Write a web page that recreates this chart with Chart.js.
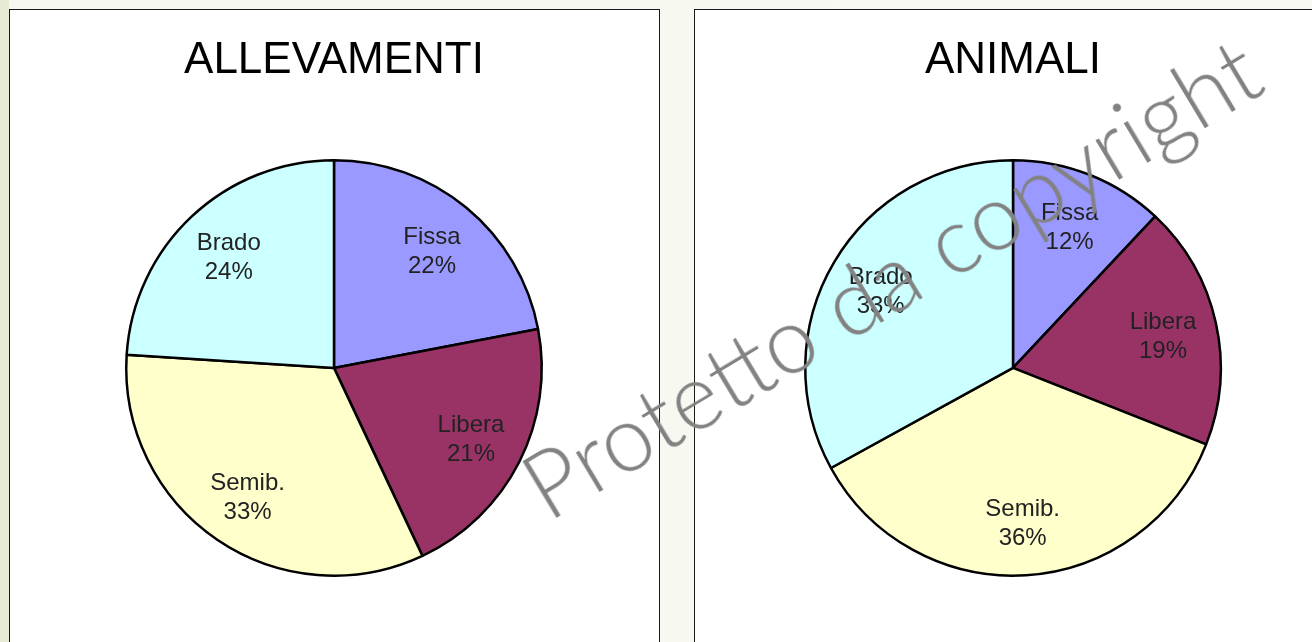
<!DOCTYPE html>
<html lang="it">
<head>
  <meta charset="UTF-8">
  <title>Allevamenti e animali per tipo di stabulazione</title>
  <script src="https://cdn.jsdelivr.net/npm/chart.js"></script>
  <style>
    html, body { margin: 0; padding: 0; }
    body {
      width: 1312px; height: 642px; overflow: hidden; position: relative;
      background: linear-gradient(90deg, #e7ebd5 0px, #e7ebd5 9px, #f6f7ee 9px, #f9f9f4 100%);
    }
    .box {
      position: absolute; top: 9px; background: #fff;
      border: 1.5px solid #1a1a1a; box-sizing: border-box;
    }
    #box1 { left: 9px; width: 651px; height: 660px; }
    #box2 { left: 694px; width: 640px; height: 660px; }
    canvas { display: block; }
    #wm {
      position: absolute; left: 890px; top: 276px;
      transform: translate(-50%, -50%) rotate(-31deg);
      font-family: Lato, "Open Sans", sans-serif; font-weight: 300;
      font-size: 92px; color: #828282; white-space: nowrap;
      pointer-events: none;
    }
  </style>
</head>
<body>
  <div class="box" id="box1"><canvas id="chartAllevamenti" width="648" height="640"></canvas></div>
  <div class="box" id="box2"><canvas id="chartAnimali" width="617" height="640"></canvas></div>
  <div id="wm">Protetto da copyright</div>

  <script>
    // dati
    const categorie = ['Fissa', 'Libera', 'Semib.', 'Brado'];
    const allevamenti = [22, 21, 33, 24];
    const animali = [12, 19, 36, 33];
    const colori = ['#9999ff', '#993366', '#ffffcc', '#ccffff'];

    // etichetta "nome / xx%" dentro ogni fetta
    const etichette = {
      id: 'etichette',
      afterDatasetsDraw(chart) {
        const ctx = chart.ctx;
        const meta = chart.getDatasetMeta(0);
        const dati = chart.data.datasets[0].data;
        const tot = dati.reduce((a, b) => a + b, 0);
        ctx.save();
        ctx.font = '24px "Liberation Sans", Arial, sans-serif';
        ctx.fillStyle = '#222';
        ctx.textAlign = 'center';
        ctx.textBaseline = 'middle';
        meta.data.forEach((arc, i) => {
          const a = (arc.startAngle + arc.endAngle) / 2;
          const r = arc.outerRadius * 0.74;
          const x = arc.x + Math.cos(a) * r;
          const y = arc.y + Math.sin(a) * r;
          ctx.fillText(chart.data.labels[i], x, y - 12);
          ctx.fillText(Math.round(dati[i] / tot * 100) + '%', x, y + 17);
        });
        ctx.restore();
      }
    };

    function torta(id, titolo, valori, padSx, padDx) {
      return new Chart(document.getElementById(id), {
        type: 'pie',
        data: {
          labels: categorie,
          datasets: [{
            data: valori,
            backgroundColor: colori,
            borderColor: '#000',
            borderWidth: 2.5
          }]
        },
        options: {
          responsive: false,
          animation: false,
          layout: { padding: { left: padSx, right: padDx, top: 0, bottom: 73 } },
          plugins: {
            legend: { display: false },
            tooltip: { enabled: false },
            title: {
              display: true,
              text: titolo,
              color: '#000',
              font: { family: '"Liberation Sans", Arial, sans-serif', size: 44, weight: 'normal', lineHeight: 1.2 },
              padding: { top: 24, bottom: 72 }
            }
          }
        },
        plugins: [etichette]
      });
    }

    torta('chartAllevamenti', 'ALLEVAMENTI', allevamenti, 115, 115);
    torta('chartAnimali', 'ANIMALI', animali, 109, 90);
  </script>
</body>
</html>
